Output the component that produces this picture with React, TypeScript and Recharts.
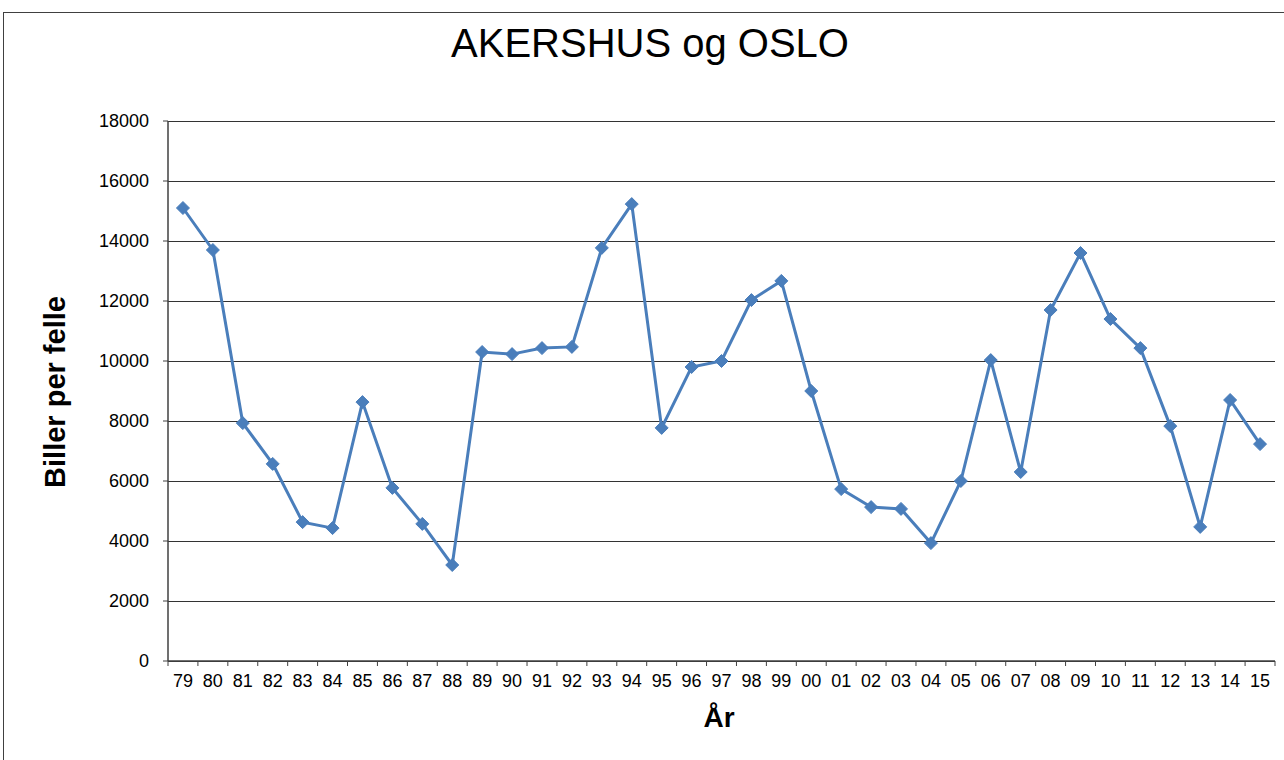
import React from "react";
import { LineChart, Line, XAxis, YAxis, CartesianGrid } from "recharts";

const years = [
  "79", "80", "81", "82", "83", "84", "85", "86", "87", "88", "89", "90", "91", "92", "93", "94", "95", "96", "97",
  "98", "99", "00", "01", "02", "03", "04", "05", "06", "07", "08", "09", "10", "11", "12", "13", "14", "15",
];

const biller = [
  15100, 13700, 7930, 6570, 4630, 4430, 8630, 5770, 4570, 3200, 10300, 10230, 10430, 10470, 13770, 15230, 7770,
  9800, 10000, 12030, 12670, 9000, 5730, 5130, 5070, 3930, 6000, 10030, 6300, 11700, 13600, 11400, 10430, 7830,
  4470, 8700, 7230,
];

const yTicks = [0, 2000, 4000, 6000, 8000, 10000, 12000, 14000, 16000, 18000];

const data = years.map((year, i) => ({ year, value: biller[i] }));

const FONT = "'Liberation Sans', Arial, sans-serif";
const W = 1284;
const H = 760;
const PLOT_LEFT = 168;
const PLOT_RIGHT = 1275;
const BAND = (PLOT_RIGHT - PLOT_LEFT) / years.length;

// Excel-style diamond marker
const Diamond = (props: { cx?: number; cy?: number; index?: number }) => {
  const { cx, cy, index } = props;
  if (cx == null || cy == null) return null;
  const r = 6.5;
  return (
    <polygon
      key={`d-${index}`}
      points={`${cx},${cy - r} ${cx + r},${cy} ${cx},${cy + r} ${cx - r},${cy}`}
      fill="#4a7ebb"
      stroke="#4a7ebb"
      strokeWidth={1}
    />
  );
};

// ticks between categories, like Excel (tick y comes in 8px below the axis line)
const XTick = (props: { x?: number; y?: number; payload?: { value: string; index: number } }) => {
  const { x = 0, y = 0, payload } = props;
  const isLast = payload && payload.index === years.length - 1;
  const top = y - 8;
  return (
    <g>
      <line x1={x - BAND / 2} x2={x - BAND / 2} y1={top} y2={top + 5} stroke="#404040" strokeWidth={1} />
      {isLast && <line x1={x + BAND / 2} x2={x + BAND / 2} y1={top} y2={top + 5} stroke="#404040" strokeWidth={1} />}
      <text x={x} y={y + 18} textAnchor="middle" fontSize={18} fill="#000" fontFamily={FONT}>
        {payload?.value}
      </text>
    </g>
  );
};

export default function App() {
  return (
    <div style={{ position: "absolute", left: 0, top: 0, width: W, height: H, background: "#fff", overflow: "hidden" }}>
      <div
        style={{
          position: "absolute",
          left: 3,
          top: 12,
          width: W,
          height: H,
          border: "1px solid #404040",
        }}
      />
      <div
        style={{
          position: "absolute",
          left: 0,
          width: 1300,
          top: 21,
          textAlign: "center",
          fontFamily: FONT,
          fontSize: 40,
          color: "#000",
        }}
      >
        AKERSHUS og OSLO
      </div>
      <div
        style={{
          position: "absolute",
          left: 55,
          top: 392,
          transform: "translate(-50%, -50%) rotate(-90deg)",
          whiteSpace: "nowrap",
          fontFamily: FONT,
          fontWeight: "bold",
          fontSize: 29,
        }}
      >
        Biller per felle
      </div>
      <div
        style={{
          position: "absolute",
          left: 719,
          top: 718,
          transform: "translate(-50%, -50%)",
          fontFamily: FONT,
          fontWeight: "bold",
          fontSize: 28,
        }}
      >
        År
      </div>
      <div style={{ position: "absolute", left: 0, top: 0 }}>
        <LineChart width={W} height={H} data={data} margin={{ top: 121, right: W - PLOT_RIGHT, bottom: 69, left: 108 }}>
          <CartesianGrid
            xAxisId="main"
            yAxisId="main"
            horizontal
            vertical={false}
            stroke="#333"
            strokeWidth={1}
            shapeRendering="crispEdges"
          />
          <XAxis
            dataKey="year"
            xAxisId="main"
            scale="band"
            interval={0}
            tickLine={false}
            tick={<XTick />}
            axisLine={{ stroke: "#404040", strokeWidth: 1.5 }}
            height={30}
          />
          <XAxis xAxisId="top" orientation="top" dataKey="year" tick={false} tickLine={false} height={0} axisLine={{ stroke: "#a0a0a0", strokeWidth: 1.5 }} />
          <YAxis
            yAxisId="main"
            domain={[0, 18000]}
            ticks={yTicks}
            interval={0}
            width={60}
            tickSize={5}
            tickMargin={14}
            tick={{ fontSize: 18, fill: "#000", fontFamily: FONT }}
            tickLine={{ stroke: "#404040" }}
            axisLine={{ stroke: "#404040", strokeWidth: 1.5 }}
          />
          <YAxis yAxisId="right" orientation="right" width={0} tick={false} tickLine={false} axisLine={{ stroke: "#a0a0a0", strokeWidth: 1.5 }} />
          <Line
            xAxisId="main"
            yAxisId="main"
            type="linear"
            dataKey="value"
            stroke="#4a7ebb"
            strokeWidth={3}
            dot={<Diamond />}
            activeDot={false}
            isAnimationActive={false}
          />
        </LineChart>
      </div>
    </div>
  );
}
